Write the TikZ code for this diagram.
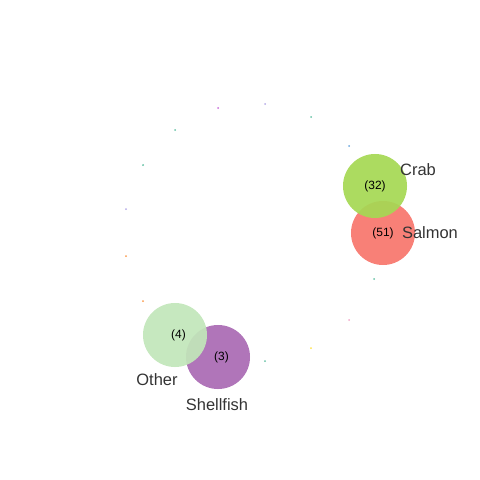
\documentclass[tikz,border=0pt]{standalone}
\usepackage{fontspec}
\setmainfont{Liberation Sans}
\usetikzlibrary{positioning}
\definecolor{ink}{HTML}{333333}
\definecolor{csalmon}{HTML}{F8766D}
\definecolor{ccrab}{HTML}{A6D854}
\definecolor{cother}{HTML}{C2E6BA}
\definecolor{cshell}{HTML}{AA6BB4}
\definecolor{dmag}{HTML}{C86BDA}
\definecolor{dlav}{HTML}{B4A9E6}
\definecolor{dmint}{HTML}{66C2A5}
\definecolor{dblue}{HTML}{6AA6DE}
\definecolor{dorange}{HTML}{FB9A4A}
\definecolor{dpink}{HTML}{F2A6C8}
\definecolor{dyellow}{HTML}{FFE34A}
\tikzset{
  spot/.style={circle, inner sep=0pt, minimum size=1.6cm, draw=none, fill opacity=0.93,
               text opacity=1, text=black, font=\fontsize{8.5}{10}\selectfont},
  tag/.style={text=ink, inner sep=0pt, font=\fontsize{11.7}{14}\selectfont},
  % ---- empty members on the ring ----
  dot/.style={circle, inner sep=0pt, minimum size=0.05cm, draw=none, fill=#1},
}

\begin{document}
\begin{tikzpicture}[x=0.025cm, y=-0.025cm]
\useasboundingbox (0,0) rectangle (480,480);
% ring of small members
\node[dot=dmag] (d1) at (218,108) {};
\node[dot=dlav] (d2) at (265,104) {};
\node[dot=dmint] (d3) at (311,117) {};
\node[dot=dblue] (d4) at (349,146) {};
\node[dot=dmint] (d5) at (175,130) {};
\node[dot=dmint] (d6) at (143,165) {};
\node[dot=dlav] (d7) at (126,209) {};
\node[dot=dorange] (d8) at (126,256) {};
\node[dot=dorange] (d9) at (143,301) {};
\node[dot=dmint] (d10) at (374,279) {};
\node[dot=dpink] (d11) at (349,320) {};
\node[dot=dyellow] (d12) at (311,348) {};
\node[dot=dmint] (d13) at (265,361) {};
% big members
\node[spot, fill=csalmon] (salmon) at (383,233) {(51)};
\node[spot, fill=ccrab] (crab) at (375,186) {\raisebox{-2pt}{(32)}};
\node[spot, fill=cshell] (shell) at (218,357) {\hspace{5pt}(3)};
\node[spot, fill=cother] (other) at (175,335) {\hspace{5pt}(4)};
% names
\node[tag] (crablbl) at (418,170) {Crab};
\node[tag] (salmonlbl) at (430,233) {Salmon};
\node[tag] (otherlbl) at (157,380) {Other};
\node[tag] (shelllbl) at (217,405) {Shellfish};
\end{tikzpicture}
\end{document}
